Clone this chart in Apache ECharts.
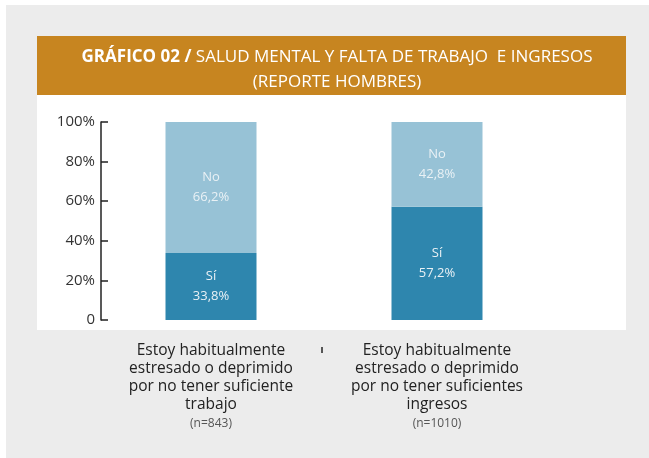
<!DOCTYPE html>
<html>
<head>
<meta charset="utf-8">
<script src="https://cdn.jsdelivr.net/npm/echarts@6/dist/echarts.min.js"></script>
<style>
  html, body { margin: 0; padding: 0; background: #fff; }
  #chart { width: 649px; height: 458px; }
</style>
</head>
<body>
<div id="chart"></div>
<script>
// data
const categories = [
  'Estoy habitualmente\nestresado o deprimido\npor no tener suficiente\ntrabajo',
  'Estoy habitualmente\nestresado o deprimido\npor no tener suficientes\ningresos'
];
const sampleSizes = ['(n=843)', '(n=1010)'];
const siValues = [33.8, 57.2];
const noValues = [66.2, 42.8];

const font = '"Open Sans", sans-serif';

const chart = echarts.init(document.getElementById('chart'));

function barLabel(name) {
  return {
    show: true,
    position: 'inside',
    formatter: p => name + '\n' + p.value.toFixed(1).replace('.', ',') + '%',
    color: '#e9f1f5',
    fontFamily: font,
    fontSize: 13,
    lineHeight: 20
  };
}

chart.setOption({
  backgroundColor: '#fff',
  animation: false,
  graphic: [
    { type: 'rect', shape: { x: 6, y: 5, width: 643, height: 453 }, style: { fill: '#ececec' }, z: -10 },
    { type: 'rect', shape: { x: 37, y: 36, width: 589, height: 59 }, style: { fill: '#c78520' }, z: -9 },
    { type: 'rect', shape: { x: 37, y: 95, width: 589, height: 235 }, style: { fill: '#ffffff' }, z: -9 }
  ],
  title: [
    {
      text: '{b|GRÁFICO 02 /} SALUD MENTAL Y FALTA DE TRABAJO  E INGRESOS',
      left: 332, top: 44, textAlign: 'center',
      textStyle: {
        color: '#fff', fontFamily: font, fontSize: 17, fontWeight: 'normal',
        rich: { b: { color: '#fff', fontFamily: font, fontSize: 17, fontWeight: 'bold' } }
      }
    },
    {
      text: '(REPORTE HOMBRES)',
      left: 332, top: 69, textAlign: 'center',
      textStyle: { color: '#fff', fontFamily: font, fontSize: 17, fontWeight: 'normal' }
    }
  ],
  grid: [
    { left: 98, top: 122, width: 452, height: 198 },
    // tiny grid only used for the small separator tick between the labels
    { left: 321, top: 122, width: 1, height: 198 }
  ],
  xAxis: [
    {
      type: 'category',
      data: categories,
      axisLine: { show: false },
      axisTick: { show: false },
      axisLabel: {
        margin: 22,
        interval: 0,
        formatter: (v, i) => '{a|' + v.split('\n').join('}\n{a|') + '}\n{n|' + sampleSizes[i] + '}',
        rich: {
          a: { fontFamily: font, fontSize: 15.5, color: '#222', lineHeight: 18 },
          n: { fontFamily: font, fontSize: 12, color: '#555', lineHeight: 20 }
        }
      }
    },
    {
      gridIndex: 1,
      type: 'value',
      min: 0, max: 1, interval: 1,
      position: 'bottom',
      offset: 27,
      splitLine: { show: false },
      axisLine: { show: false, onZero: false },
      axisLabel: { show: false },
      axisTick: { show: true, length: 6, lineStyle: { color: '#555' } }
    }
  ],
  yAxis: [
    {
      type: 'value',
      min: 0, max: 100, interval: 20,
      offset: -3,
      splitLine: { show: false },
      axisLine: { show: true, lineStyle: { color: '#222', width: 1.5 } },
      axisTick: { show: true, inside: true, length: 7, lineStyle: { color: '#222', width: 1.5 } },
      axisLabel: {
        margin: 6,
        color: '#333', fontFamily: font, fontSize: 15,
        formatter: v => v === 0 ? '0' : v + '%'
      }
    },
    { gridIndex: 1, type: 'value', show: false }
  ],
  series: [
    {
      name: 'Sí', type: 'bar', stack: 'total', barWidth: 91,
      data: siValues, itemStyle: { color: '#2e86ae' }, label: barLabel('Sí')
    },
    {
      name: 'No', type: 'bar', stack: 'total', barWidth: 91,
      data: noValues, itemStyle: { color: '#97c2d6' }, label: barLabel('No')
    }
  ]
});
</script>
</body>
</html>
